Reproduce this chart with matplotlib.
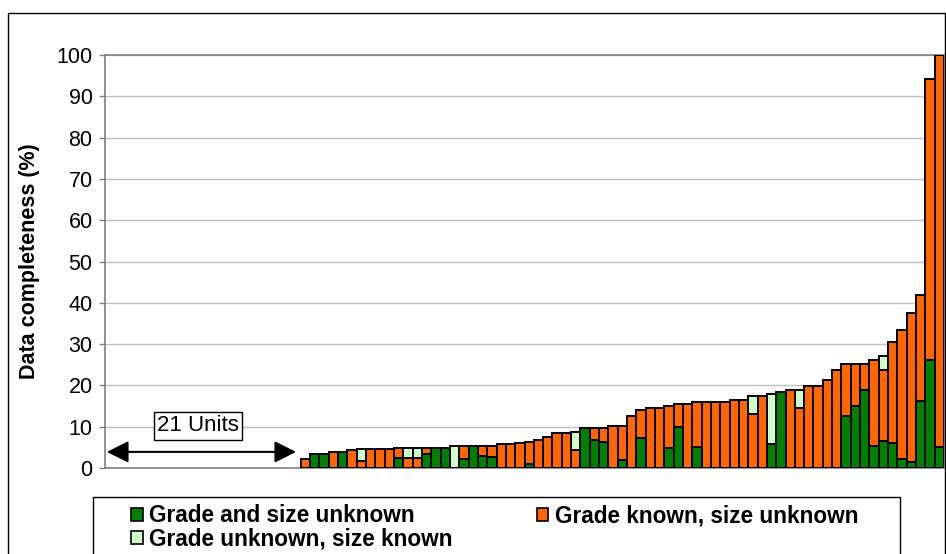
import numpy as np
import matplotlib
matplotlib.use("Agg")
import matplotlib.pyplot as plt
from matplotlib.patches import Rectangle

plt.rcParams['font.family'] = ['Liberation Sans', 'DejaVu Sans']

# 21 units with no data, then 69 units sorted by completeness
n_empty = 21
grade_size_unknown = [
    0, 3.4, 3.4, 0, 3.9, 0, 0, 0, 0, 0,
    2.5, 0, 0, 3.5, 4.9, 4.9, 0, 2.2, 5.3, 2.9,
    2.7, 0, 0, 0, 1.0, 0, 0, 0, 0, 0,
    9.8, 6.8, 6.2, 0, 1.9, 0, 7.2, 0, 0, 4.8,
    10.0, 0, 5.2, 0, 0, 0, 0, 0, 0, 0,
    5.7, 18.4, 0, 0, 0, 0, 0, 0, 12.5, 14.9,
    18.9, 5.3, 6.5, 6.1, 2.3, 1.5, 16.3, 26.2, 5.2]
grade_known_size_unknown = [
    2.2, 0, 0, 3.9, 0, 4.4, 1.8, 4.5, 4.5, 4.5,
    2.4, 2.4, 2.4, 1.4, 0, 0, 0, 3.1, 0, 2.4,
    2.6, 5.9, 5.9, 6.0, 5.4, 6.9, 7.4, 8.4, 8.4, 4.4,
    0, 2.8, 3.4, 10.2, 8.3, 12.7, 6.9, 14.5, 14.5, 10.2,
    5.5, 15.5, 10.9, 16.1, 16.1, 16.1, 16.5, 16.5, 13.0, 17.5,
    0, 0, 18.9, 14.5, 19.9, 19.9, 21.2, 23.7, 12.7, 10.3,
    6.3, 20.9, 17.2, 24.4, 31.1, 36.0, 25.5, 68.1, 94.8]
grade_unknown_size_known = [
    0, 0, 0, 0, 0, 0, 2.7, 0, 0, 0,
    0, 2.5, 2.5, 0, 0, 0, 5.3, 0, 0, 0,
    0, 0, 0, 0, 0, 0, 0, 0, 0, 4.4,
    0, 0, 0, 0, 0, 0, 0, 0, 0, 0,
    0, 0, 0, 0, 0, 0, 0, 0, 4.5, 0,
    12.3, 0, 0, 4.4, 0, 0, 0, 0, 0, 0,
    0, 0, 3.4, 0, 0, 0, 0, 0, 0]

labels = ['Grade and size unknown', 'Grade unknown, size known',
          'Grade known, size unknown']

g = np.array(grade_size_unknown)
o = np.array(grade_known_size_unknown)
l = np.array(grade_unknown_size_known)
x = np.arange(n_empty, n_empty + len(g))

fig = plt.figure(figsize=(9.46, 5.54), dpi=100)
ax = fig.add_axes([105 / 946, 1 - 468 / 554, 839 / 946, 413 / 554])


def lw(v):
    return [1.4 if val > 0 else 0 for val in v]


b1 = ax.bar(x, g, width=1.0, color='#008000', edgecolor='black', linewidth=lw(g), zorder=3)
b3 = ax.bar(x, o, width=1.0, bottom=g, color='#FF6600', edgecolor='black', linewidth=lw(o), zorder=3)
b2 = ax.bar(x, l, width=1.0, bottom=g + o, color='#CCFFCC', edgecolor='black', linewidth=lw(l), zorder=3)

ax.set_xlim(-0.5, n_empty + len(g) - 0.5)
ax.set_ylim(0, 100)
ax.set_yticks(range(0, 101, 10))
ax.tick_params(axis='y', labelsize=15.5, length=4, width=1, color='#808080', pad=5)
ax.set_xticks([])
ax.yaxis.grid(True, color='#C0C0C0', linewidth=1, zorder=0)
ax.set_axisbelow(True)
for side in ['left', 'bottom', 'top', 'right']:
    ax.spines[side].set_color('#808080')
    ax.spines[side].set_linewidth(1.2)

ax.set_ylabel('Data completeness (%)', fontsize=15.5, fontweight='bold')
ax.yaxis.set_label_coords(-0.077, 0.5)

# 21 units annotation
ax.annotate('', xy=(-0.3, 3.9), xytext=(20.0, 3.9),
            arrowprops=dict(arrowstyle='<|-|>,head_length=0.6,head_width=0.3',
                            color='black', lw=1.5, mutation_scale=22,
                            shrinkA=0, shrinkB=0))
ax.text(9.5, 10.2, '21 Units', fontsize=16, ha='center', va='center', zorder=5,
        bbox=dict(boxstyle='square,pad=0.15', facecolor='white', edgecolor='black', linewidth=1))

# outer chart frame and legend frame
fig.add_artist(Rectangle((8 / 946, -0.05), 937 / 946, 1.05 - 13 / 554, transform=fig.transFigure,
                         fill=False, edgecolor='black', linewidth=1))
fig.add_artist(Rectangle((93 / 946, -0.05), 807 / 946, 0.05 + 1 - 497 / 554, transform=fig.transFigure,
                         fill=False, edgecolor='black', linewidth=1))

leg = fig.legend([b1, b2, b3], labels, ncol=2, loc='upper left',
                 bbox_to_anchor=(120 / 946, 1 - 493 / 554), frameon=False,
                 prop=dict(size=16.3, weight='bold'), borderpad=0,
                 handlelength=0.5, handleheight=0.5, handletextpad=0.3,
                 labelspacing=0.0, columnspacing=3.7)
for h in leg.legend_handles:
    h.set_linewidth(1.2)

fig.savefig('out.png', dpi=100)
